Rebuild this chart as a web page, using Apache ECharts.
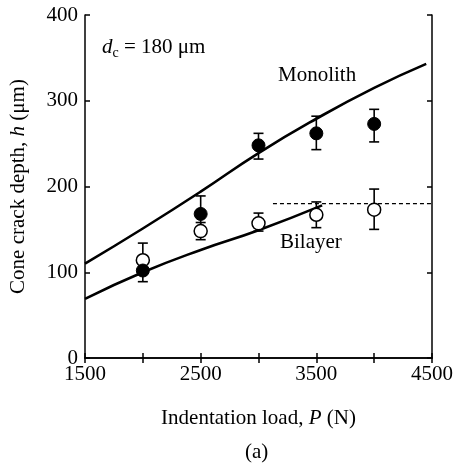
<!DOCTYPE html>
<html>
<head>
<meta charset="utf-8">
<script src="https://cdn.jsdelivr.net/npm/echarts@6/dist/echarts.min.js"></script>
<style>
  html, body { margin: 0; padding: 0; background: #fff; }
  #chart { width: 460px; height: 467px; }
</style>
</head>
<body>
<div id="chart"></div>
<script>
// measured points (load P in N)
const loads = [2000, 2500, 3000, 3500, 4000];
const monoDepth = [102, 168, 248, 262, 273];
const monoLow = [89, 148, 232, 243, 252];
const monoHigh = [115, 189, 262, 282, 290];
const biDepth = [114, 148, 157, 167, 173];
const biLow = [100, 138, 148, 152, 150];
const biHigh = [134, 158, 169, 182, 197];

// model curves
const monoCurveP = [1500, 2000, 2500, 3000, 3500, 4000, 4450];
const monoCurveH = [110, 151, 194, 239, 279, 315, 343];
const biCurveP = [1500, 2000, 2500, 3000, 3550];
const biCurveH = [69, 100, 126, 149, 178];
const dashP = [3125, 4500];
const dashH = [180, 180];

const xTicks = [1500, 2500, 3500, 4500];

const font = 'Liberation Serif';
const fs = 21;
const chart = echarts.init(document.getElementById('chart'));

function pairs(xs, ys) { return xs.map((x, i) => [x, ys[i]]); }

// error bars with caps
function errorBars(lo, hi) {
  return {
    type: 'custom',
    data: loads.map((x, i) => [x, lo[i], hi[i]]),
    z: 2,
    renderItem: function (params, api) {
      const a = api.coord([api.value(0), api.value(1)]);
      const b = api.coord([api.value(0), api.value(2)]);
      const w = 5;
      const st = { stroke: '#000', lineWidth: 1.6 };
      return {
        type: 'group',
        children: [
          { type: 'line', shape: { x1: a[0], y1: a[1], x2: b[0], y2: b[1] }, style: st },
          { type: 'line', shape: { x1: a[0] - w, y1: a[1], x2: a[0] + w, y2: a[1] }, style: st },
          { type: 'line', shape: { x1: b[0] - w, y1: b[1], x2: b[0] + w, y2: b[1] }, style: st }
        ]
      };
    }
  };
}

const axisCommon = {
  type: 'value',
  axisLine: { show: true, lineStyle: { color: '#000', width: 1.5 } },
  axisTick: { show: true, inside: true, length: 5, lineStyle: { color: '#000', width: 1.5 } },
  splitLine: { show: false }
};

const nameStyle = {
  color: '#000', fontFamily: font, fontSize: fs,
  rich: { i: { fontStyle: 'italic', fontFamily: font, fontSize: fs, color: '#000' } }
};

const option = {
  animation: false,
  backgroundColor: '#fff',
  grid: { left: 85, right: 28, top: 15, bottom: 109 },
  xAxis: [
    Object.assign({}, axisCommon, {
      min: 1500, max: 4500, interval: 500,
      position: 'bottom',
      axisLabel: {
        color: '#000', fontFamily: font, fontSize: fs, margin: 6,
        formatter: v => xTicks.includes(v) ? String(v) : ''
      },
      name: 'Indentation load, {i|P} (N)',
      nameLocation: 'middle', nameGap: 50,
      nameTextStyle: nameStyle
    }),
    Object.assign({}, axisCommon, {
      min: 1500, max: 4500, interval: 500,
      position: 'top',
      axisLabel: { show: false }
    })
  ],
  yAxis: [
    Object.assign({}, axisCommon, {
      min: 0, max: 400, interval: 100,
      position: 'left',
      axisLabel: { color: '#000', fontFamily: font, fontSize: fs, margin: 7 },
      name: 'Cone crack depth, {i|h} (μm)',
      nameLocation: 'middle', nameGap: 56,
      nameTextStyle: nameStyle
    }),
    Object.assign({}, axisCommon, {
      min: 0, max: 400, interval: 100,
      position: 'right',
      axisLabel: { show: false }
    })
  ],
  series: [
    {
      type: 'line', data: pairs(monoCurveP, monoCurveH), smooth: true,
      symbol: 'none', lineStyle: { color: '#000', width: 2.6 }, z: 1
    },
    {
      type: 'line', data: pairs(biCurveP, biCurveH), smooth: true,
      symbol: 'none', lineStyle: { color: '#000', width: 2.6 }, z: 1
    },
    {
      type: 'line', data: pairs(dashP, dashH),
      symbol: 'none', lineStyle: { color: '#000', width: 1.2, type: [4, 3] }, z: 1
    },
    errorBars(monoLow, monoHigh),
    errorBars(biLow, biHigh),
    {
      type: 'scatter', data: pairs(loads, biDepth), symbol: 'circle', symbolSize: 13,
      itemStyle: { color: '#fff', borderColor: '#000', borderWidth: 1.5, opacity: 1 }, z: 3
    },
    {
      type: 'scatter', data: pairs(loads, monoDepth), symbol: 'circle', symbolSize: 13,
      itemStyle: { color: '#000', borderColor: '#000', borderWidth: 1, opacity: 1 }, z: 4
    }
  ],
  graphic: [
    {
      type: 'text', left: 102, top: 37,
      style: {
        text: '{i|d}{s|c} = 180 μm',
        fontFamily: font, fontSize: fs, fill: '#000',
        rich: {
          i: { fontStyle: 'italic', fontFamily: font, fontSize: fs, fill: '#000' },
          s: { fontFamily: font, fontSize: 14, fill: '#000', padding: [11, 0, 0, 0] }
        }
      }
    },
    {
      type: 'text', left: 278, top: 65,
      style: { text: 'Monolith', fontFamily: font, fontSize: fs, fill: '#000' }
    },
    {
      type: 'text', left: 280, top: 232,
      style: { text: 'Bilayer', fontFamily: font, fontSize: fs, fill: '#000' }
    },
    {
      type: 'text', left: 245, top: 442,
      style: { text: '(a)', fontFamily: font, fontSize: fs, fill: '#000' }
    }
  ]
};

chart.setOption(option);
</script>
</body>
</html>
